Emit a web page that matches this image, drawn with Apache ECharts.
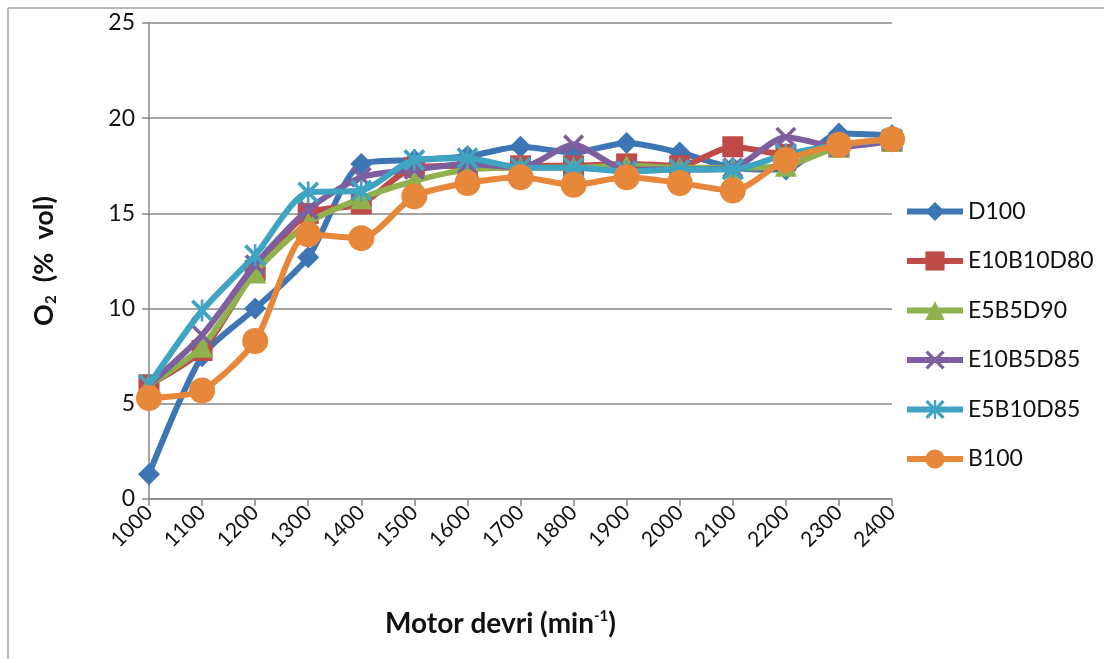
<!DOCTYPE html>
<html>
<head>
<meta charset="utf-8">
<script src="https://cdn.jsdelivr.net/npm/echarts@6/dist/echarts.min.js"></script>
<style>
html,body{margin:0;padding:0;background:#fff;}
#chart{width:1112px;height:659px;}
</style>
</head>
<body>
<div id="chart"></div>
<script>
const categories = ['1000','1100','1200','1300','1400','1500','1600','1700','1800','1900','2000','2100','2200','2300','2400'];
const seriesNames = ['D100','E10B10D80','E5B5D90','E10B5D85','E5B10D85','B100'];
const D100      = [1.3, 7.5, 10.0, 12.7, 17.6, 17.8, 18.0, 18.5, 18.2, 18.7, 18.2, 17.4, 17.3, 19.2, 19.1];
const E10B10D80 = [6.0, 7.8, 12.0, 15.0, 15.5, 17.4, 17.5, 17.5, 17.5, 17.6, 17.5, 18.5, 18.1, 18.5, 18.8];
const E5B5D90   = [6.0, 8.0, 11.9, 14.5, 15.8, 16.7, 17.3, 17.4, 17.4, 17.5, 17.4, 17.4, 17.5, 18.5, 18.8];
const E10B5D85  = [6.0, 8.6, 12.3, 15.2, 16.9, 17.3, 17.6, 17.4, 18.6, 17.3, 17.3, 17.4, 19.0, 18.5, 18.8];
const E5B10D85  = [6.0, 9.9, 12.8, 16.1, 16.2, 17.8, 17.9, 17.4, 17.4, 17.2, 17.3, 17.3, 18.1, 18.6, 18.9];
const B100      = [5.3, 5.7, 8.3, 13.9, 13.7, 15.9, 16.6, 16.9, 16.5, 16.9, 16.6, 16.2, 17.8, 18.6, 18.9];
const yTicks = [0, 5, 10, 15, 20, 25];

const colors = ['#3E75B5','#BE4B48','#8FB14E','#7D5FA0','#3FA4C1','#E6873A'];
const xPath = 'path://M0,1.2 L1.2,0 L5,3.8 L8.8,0 L10,1.2 L6.2,5 L10,8.8 L8.8,10 L5,6.2 L1.2,10 L0,8.8 L3.8,5 Z';
const starPath = 'path://M0,1.2 L1.2,0 L5,3.8 L8.8,0 L10,1.2 L6.2,5 L10,8.8 L8.8,10 L5,6.2 L1.2,10 L0,8.8 L3.8,5 Z M4.4,0 L5.6,0 L5.6,10 L4.4,10 Z';
const symbols = ['diamond','rect','triangle',xPath,starPath,'circle'];
const sizes = [22,21,22,21,22,26];
const dataArr = [D100,E10B10D80,E5B5D90,E10B5D85,E5B10D85,B100];

const font = 'Lato, "Noto Sans", sans-serif';
const chart = echarts.init(document.getElementById('chart'));
chart.setOption({
  animation:false,
  backgroundColor:'#fff',
  color:colors,
  graphic:[
    {type:'line',shape:{x1:8,y1:8,x2:1104,y2:8},style:{stroke:'#a0a0a0',lineWidth:1.5}},
    {type:'line',shape:{x1:8,y1:8,x2:8,y2:659},style:{stroke:'#a0a0a0',lineWidth:1.5}}
  ],
  grid:{left:149,right:220,top:23,bottom:160,containLabel:false},
  legend:{
    orient:'vertical',left:899,top:195,itemGap:26.5,itemWidth:56,itemHeight:24,
    data:seriesNames,
    lineStyle:{width:6},
    textStyle:{fontFamily:font,fontSize:23,color:'#111'}
  },
  xAxis:{
    type:'category',data:categories,boundaryGap:false,
    axisLine:{lineStyle:{color:'#868686',width:1.5}},
    axisTick:{show:true,length:7,alignWithLabel:true,lineStyle:{color:'#868686',width:1.5}},
    axisLabel:{rotate:45,fontFamily:font,fontSize:21,color:'#111',margin:10,interval:0},
    name:'Motor devri (min{sup|-1})',nameLocation:'middle',nameGap:110,
    nameTextStyle:{fontFamily:font,fontSize:28,fontWeight:'bold',color:'#111',padding:[0,40,0,0],
      rich:{sup:{fontFamily:font,fontSize:15,fontWeight:'bold',color:'#111',verticalAlign:'top',padding:[0,0,14,0]}}}
  },
  yAxis:{
    type:'value',min:0,max:25,interval:5,
    axisLine:{show:true,lineStyle:{color:'#868686',width:1.5}},
    axisTick:{show:true,length:7,lineStyle:{color:'#868686',width:1.5}},
    splitLine:{lineStyle:{color:'#868686',width:1.5}},
    axisLabel:{fontFamily:font,fontSize:23,color:'#111',margin:14,
      formatter:function(v){return yTicks.indexOf(v)>=0?String(v):'';}},
    name:'O{sub|2}  (%  vol)',nameLocation:'middle',nameGap:90,nameRotate:90,
    nameTextStyle:{fontFamily:font,fontSize:27,fontWeight:'bold',color:'#111',
      rich:{sub:{fontFamily:font,fontSize:15,fontWeight:'bold',color:'#111',verticalAlign:'bottom',padding:[14,0,0,0]}}}
  },
  series:seriesNames.map(function(n,i){
    return {
      name:n,type:'line',data:dataArr[i],smooth:0.25,
      symbol:symbols[i],symbolSize:sizes[i],showAllSymbol:true,
      lineStyle:{width:6,color:colors[i]},
      itemStyle:{color:colors[i]},
      z:2+i
    };
  })
});
</script>
</body>
</html>
